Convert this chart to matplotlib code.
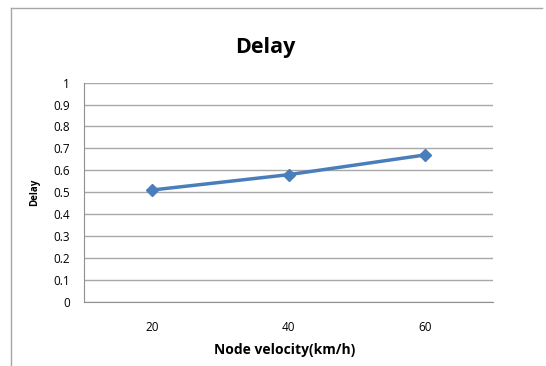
import matplotlib.pyplot as plt
from matplotlib.lines import Line2D

# data
velocity = ["20", "40", "60"]
delay = [0.51, 0.58, 0.67]
yticks = [0, 0.1, 0.2, 0.3, 0.4, 0.5, 0.6, 0.7, 0.8, 0.9, 1]

plt.rcParams['font.family'] = ['Open Sans', 'DejaVu Sans']

fig = plt.figure(figsize=(5.46, 3.66), dpi=100)
ax = fig.add_axes([84 / 546, 1 - 301.7 / 366, 409 / 546, 219 / 366])

# chart frame: left and top edges only are visible in the reference
fy = 1 - 7.5 / 366
fx = 10.5 / 546
fig.add_artist(Line2D([fx, fx], [0, fy], transform=fig.transFigure,
                      color='#a6a6a6', linewidth=1))
fig.add_artist(Line2D([fx, 542 / 546], [fy, fy], transform=fig.transFigure,
                      color='#a6a6a6', linewidth=1))

x = range(1, len(velocity) + 1)
ax.plot(x, delay, color='#4a7ebb', linewidth=2.5, marker='D', markersize=6)

ax.set_xlim(0.5, len(velocity) + 0.5)
ax.set_ylim(0, 1)
ax.set_xticks(list(x))
ax.set_xticklabels(velocity)
ax.set_yticks(yticks)
ax.set_yticklabels([f"{v:g}" for v in yticks])
ax.tick_params(axis='both', length=0, labelsize=8.5, colors='#000000')
ax.tick_params(axis='y', pad=10)
ax.tick_params(axis='x', pad=14)

ax.grid(axis='y', color='#a8a8a8', linewidth=1)
ax.set_axisbelow(True)
for s in ['top', 'right']:
    ax.spines[s].set_visible(False)
ax.spines['left'].set_color('#909090')
ax.spines['bottom'].set_color('#909090')

fig.text(265 / 546, 1 - 48 / 366, "Delay", fontsize=15.5, fontweight='bold',
         ha='center', va='center')
fig.text(35 / 546, 1 - 192 / 366, "Delay", fontsize=7, fontweight='bold',
         rotation=90, ha='center', va='center')
fig.text(285 / 546, 1 - 350 / 366, "Node velocity(km/h)", fontsize=10,
         fontweight='bold', ha='center', va='center')

fig.savefig("out.png", dpi=100)
